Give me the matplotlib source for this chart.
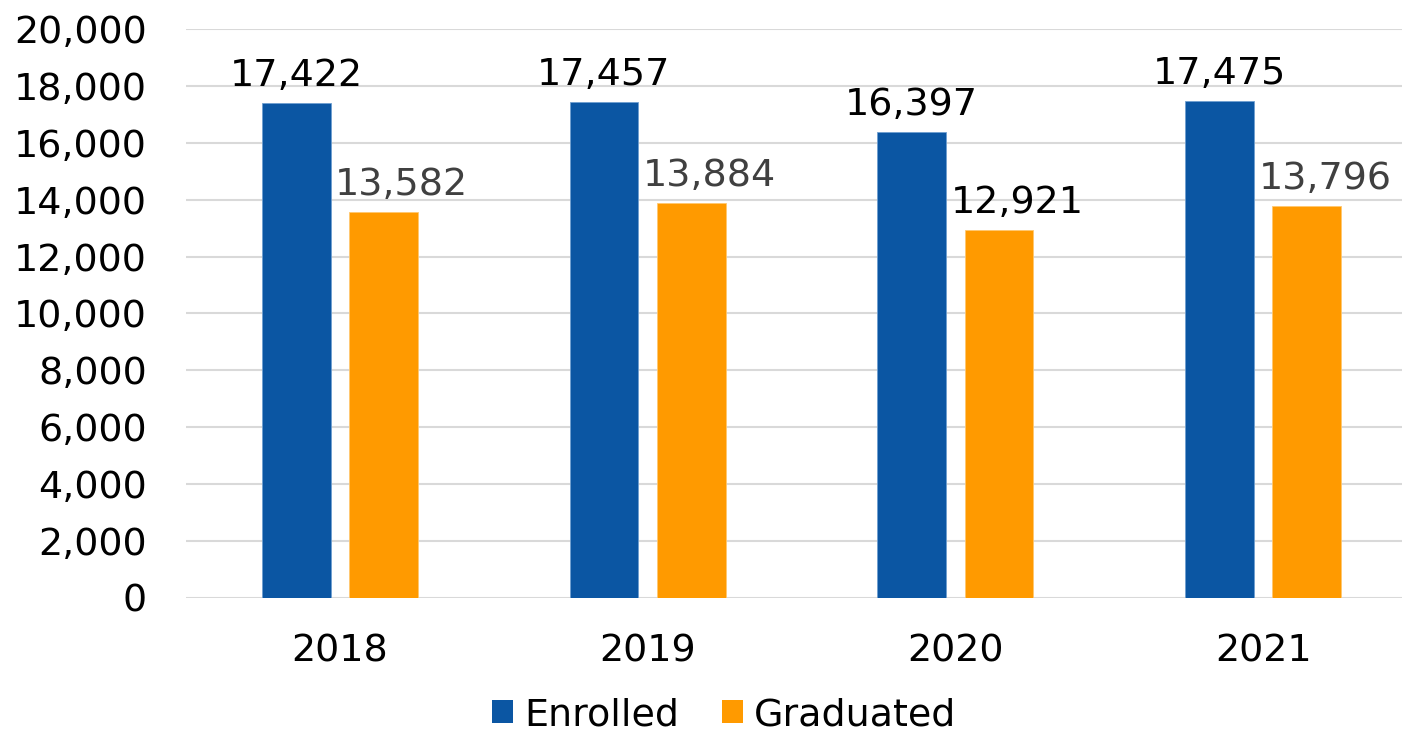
import matplotlib
matplotlib.use("Agg")
import matplotlib.pyplot as plt
import numpy as np
from matplotlib.patches import Patch
from matplotlib.ticker import FuncFormatter

years = ["2018", "2019", "2020", "2021"]
enrolled = [17422, 17457, 16397, 17475]
graduated = [13582, 13884, 12921, 13796]
graduated_label_colors = ["#404040", "#404040", "#000000", "#404040"]

blue = "#0B56A3"
orange = "#FF9A00"
fs = 27.4

plt.rcParams['font.family'] = ['DejaVu Sans']
W, H = 1402, 731
fig = plt.figure(figsize=(W/100, H/100), dpi=100)
left, right = 186, 1417
top, bottom = 29.3, 597.5
ax = fig.add_axes([left/W, 1-bottom/H, (right-left)/W, (bottom-top)/H])

x = np.arange(len(years))
bw = 0.224
off = 0.1418
ax.bar(x-off, enrolled, bw, color=blue, edgecolor="#6f9fd0", linewidth=0.6, zorder=3)
ax.bar(x+off, graduated, bw, color=orange, edgecolor="#ffc870", linewidth=0.6, zorder=3)

for i in range(len(years)):
    ax.annotate(f"{enrolled[i]:,}", (x[i]-off, enrolled[i]), xytext=(0, 12.2),
                textcoords="offset points", ha="center", va="baseline",
                fontsize=fs, color="#000000")
    ax.annotate(f"{graduated[i]:,}", (x[i]+off, graduated[i]), xytext=(13, 12.2),
                textcoords="offset points", ha="center", va="baseline",
                fontsize=fs, color=graduated_label_colors[i])

ax.set_xlim(-0.5, len(years)-0.5)
ax.set_ylim(0, 20000)
ax.set_yticks(np.arange(0, 20001, 2000))
ax.yaxis.set_major_formatter(FuncFormatter(lambda v, p: f"{int(v):,}"))
ax.set_xticks(x)
ax.set_xticklabels(years)
ax.tick_params(axis='y', length=0, pad=28, labelsize=fs)
ax.tick_params(axis='x', length=0, pad=26, labelsize=fs)
ax.grid(axis='y', color="#d9d9d9", linewidth=1.5, zorder=0)
ax.set_axisbelow(True)
for s in ax.spines.values():
    s.set_visible(False)

handles = [Patch(facecolor=blue, label="Enrolled"), Patch(facecolor=orange, label="Graduated")]
fig.legend(handles=handles, loc="center", bbox_to_anchor=(724/W, 1-715/H), ncol=2,
           frameon=False, fontsize=fs, handlelength=0.55, handleheight=0.55,
           handletextpad=0.3, columnspacing=1.12, borderaxespad=0, borderpad=0)

fig.savefig("out.png", dpi=100)
